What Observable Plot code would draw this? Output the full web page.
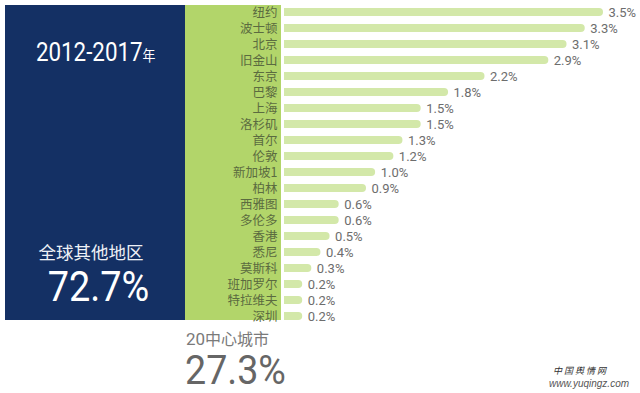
<!DOCTYPE html>
<html>
<head>
<meta charset="utf-8">
<script src="https://cdn.jsdelivr.net/npm/d3@7"></script>
<script src="https://cdn.jsdelivr.net/npm/@observablehq/plot@0.6"></script>
<style>
  html, body { margin: 0; padding: 0; background: #ffffff; }
  #wrap { position: relative; width: 640px; height: 393px; overflow: hidden; background: #fff; }
  .panel { position: absolute; }
  .t { position: absolute; white-space: nowrap; line-height: 1.15; }
  #chart { position: absolute; left: 0; top: 0; }
</style>
</head>
<body>
<div id="wrap">
  <div class="panel" id="navy"></div>
  <div class="panel" id="green"></div>
  <div id="chart"></div>
  <div class="t" id="years"></div>
  <div class="t" id="restLabel"></div>
  <div class="t" id="restValue"></div>
  <div class="t" id="topLabel"></div>
  <div class="t" id="topValue"></div>
  <div class="t" id="wm1"></div>
  <div class="t" id="wm2"></div>
</div>
<script>
const cities = ["纽约","波士顿","北京","旧金山","东京","巴黎","上海","洛杉矶","首尔","伦敦","新加坡1","柏林","西雅图","多伦多","香港","悉尼","莫斯科","班加罗尔","特拉维夫","深圳"];
const shares = [3.5,3.3,3.1,2.9,2.2,1.8,1.5,1.5,1.3,1.2,1.0,0.9,0.6,0.6,0.5,0.4,0.3,0.2,0.2,0.2];
const periodText = ["2012-2017", "年"];
const restText = ["全球其他地区", "72.7%"];
const topText = ["20中心城市", "27.3%"];
const watermark = ["中 国 舆 情 网", "www.yuqingz.com"];

const data = cities.map((c, i) => ({city: c, v: shares[i]}));

const NUM = "'Roboto', 'Liberation Sans', sans-serif";
const CJK = "'Noto Sans CJK SC', 'Noto Sans', sans-serif";

const plot = Plot.plot({
  width: 640,
  height: 393,
  marginLeft: 284,
  marginRight: 37,
  marginTop: 3.5,
  marginBottom: 69.5,
  style: {background: "transparent", fontFamily: CJK},
  x: {domain: [0, 3.5], axis: null},
  y: {domain: cities, padding: 0, axis: null},
  marks: [
    Plot.barX(data, {x: "v", y: "city", fill: "#d3e8a9", insetTop: 4, insetBottom: 4, rx2: 4}),
    Plot.axisY({domain: cities, anchor: "left", label: null, tickSize: 0, tickPadding: 7, fontSize: 12.5, fill: "#5b6b40", fontFamily: CJK}),
    Plot.text(data, {x: "v", y: "city", text: d => d.v.toFixed(1) + "%", dx: 5, textAnchor: "start", fontSize: 13, fill: "#6d6d6d", fontFamily: NUM})
  ]
});
document.getElementById("chart").appendChild(plot);

function css(el, o) { Object.assign(el.style, o); return el; }
css(document.getElementById("navy"), {left: "5px", top: "5px", width: "180px", height: "315px", background: "#143064"});
css(document.getElementById("green"), {left: "185px", top: "5px", width: "96px", height: "315px", background: "#b2d56a"});

const y = document.getElementById("years");
y.innerHTML = `<span style="font-family:${NUM};font-size:26px">${periodText[0]}</span><span style="font-family:${CJK};font-size:15px">${periodText[1]}</span>`;
css(y, {left: "5px", width: "180px", textAlign: "center", top: "38px", color: "#ffffff", transform: "scaleX(0.86)", transformOrigin: "95px 50%"});

const rl = document.getElementById("restLabel");
rl.textContent = restText[0];
css(rl, {left: "1px", width: "180px", textAlign: "center", top: "242px", color: "#eef1f6", fontFamily: CJK, fontSize: "17.5px"});

const rv = document.getElementById("restValue");
rv.textContent = restText[1];
css(rv, {left: "5px", width: "186px", textAlign: "center", top: "264px", color: "#ffffff", fontFamily: NUM, fontSize: "42px", transform: "scaleX(0.9)", transformOrigin: "98px 50%", lineHeight: "1.1"});

const tl = document.getElementById("topLabel");
tl.innerHTML = `<span style="font-family:${NUM};font-size:17px">${topText[0].slice(0,2)}</span><span style="font-family:${CJK}">${topText[0].slice(2)}</span>`;
css(tl, {left: "186px", top: "329px", color: "#7a7a7a", fontSize: "16px"});

const tv = document.getElementById("topValue");
tv.textContent = topText[1];
css(tv, {left: "185px", top: "350px", color: "#666666", fontFamily: NUM, fontSize: "40px", transform: "scaleX(0.94)", transformOrigin: "0 50%", lineHeight: "1.05"});

const w1 = document.getElementById("wm1");
w1.textContent = watermark[0];
css(w1, {left: "553px", top: "366px", color: "#333", fontFamily: "'Noto Sans CJK SC', serif", fontSize: "9px", fontStyle: "italic"});
const w2 = document.getElementById("wm2");
w2.textContent = watermark[1];
css(w2, {left: "549px", top: "378px", color: "#555", fontFamily: "'Liberation Sans', sans-serif", fontSize: "10px", fontStyle: "italic"});
</script>
</body>
</html>
